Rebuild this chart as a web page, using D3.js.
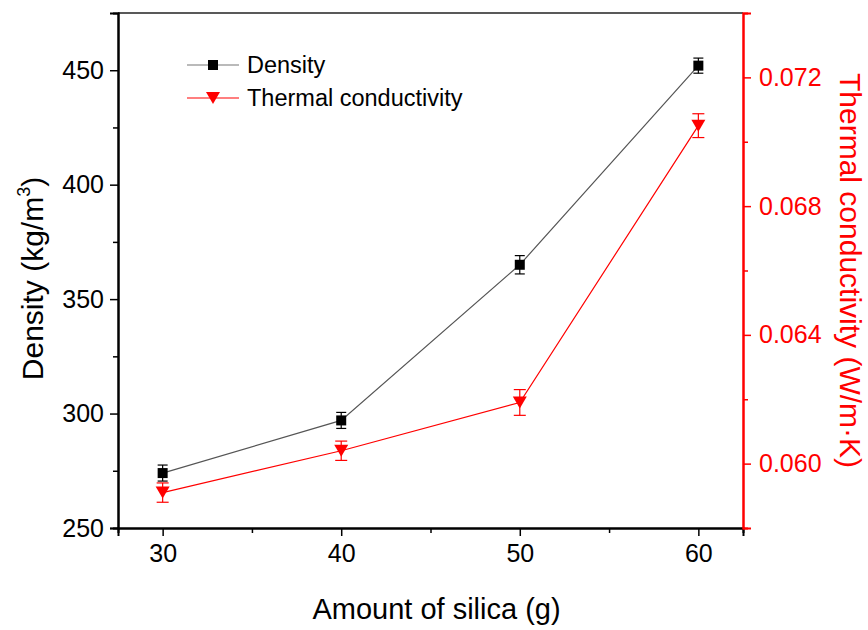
<!DOCTYPE html>
<html>
<head>
<meta charset="utf-8">
<script src="https://cdn.jsdelivr.net/npm/d3@7"></script>
<style>
  html, body { margin: 0; padding: 0; background: #ffffff; }
  svg { display: block; font-family: "Liberation Sans", Arial, sans-serif; }
</style>
</head>
<body>
<svg id="chart" width="868" height="630"></svg>
<script>
// ---- data ----
const silica = [30, 40, 50, 60];
const density = [274, 297, 365, 452];
const densityErr = [3.5, 3.5, 4, 3.3];
const conductivity = [0.0591, 0.0604, 0.0619, 0.0705];
const conductivityErr = [0.0003, 0.0003, 0.0004, 0.00037];
const xTicks = [30, 40, 50, 60];
const xMinor = [35, 45, 55];
const leftTicks = [250, 300, 350, 400, 450];
const leftMinor = [275, 325, 375, 425];
const rightTicks = [0.060, 0.064, 0.068, 0.072];
const rightMinor = [0.062, 0.066, 0.070];
const seriesNames = ["Density", "Thermal conductivity"];

// ---- layout ----
const svg = d3.select("#chart");
const L = 118, R = 743, T = 13, B = 528;
const red = "#ff0000";

const x = d3.scaleLinear().domain([27.5, 62.5]).range([L, R]);
const yL = d3.scaleLinear().domain([250, 475]).range([B, T]);
const yR = d3.scaleLinear().domain([0.058, 0.074]).range([B, T]);

// top frame
svg.append("line").attr("x1", L).attr("x2", R).attr("y1", T).attr("y2", T)
  .attr("stroke", "#222").attr("stroke-width", 1.5);

function styleAxis(g, color, fs) {
  g.selectAll(".domain").attr("stroke", color).attr("stroke-width", 2);
  g.selectAll(".tick line").attr("stroke", color).attr("stroke-width", 1.5);
  g.selectAll(".tick text").attr("fill", color).attr("font-size", fs)
    .attr("font-family", "Liberation Sans, Arial, sans-serif");
}

// bottom axis
const gx = svg.append("g").attr("transform", `translate(0,${B})`)
  .call(d3.axisBottom(x).tickValues(xTicks).tickSize(8).tickPadding(8).tickFormat(d3.format("d")));
styleAxis(gx, "#000", 25);
const gxm = svg.append("g").attr("transform", `translate(0,${B})`)
  .call(d3.axisBottom(x).tickValues(xMinor).tickSize(5).tickFormat(""));
styleAxis(gxm, "#000", 25);

// left axis
const gl = svg.append("g").attr("transform", `translate(${L},0)`)
  .call(d3.axisLeft(yL).tickValues(leftTicks).tickSize(8).tickPadding(6).tickFormat(d3.format("d")));
styleAxis(gl, "#000", 25);
const glm = svg.append("g").attr("transform", `translate(${L},0)`)
  .call(d3.axisLeft(yL).tickValues(leftMinor).tickSize(5).tickFormat(""));
styleAxis(glm, "#000", 25);

// right axis
const gr = svg.append("g").attr("transform", `translate(${R},0)`)
  .call(d3.axisRight(yR).tickValues(rightTicks).tickSize(8).tickPadding(8).tickFormat(d3.format(".3f")));
styleAxis(gr, red, 25);
const grm = svg.append("g").attr("transform", `translate(${R},0)`)
  .call(d3.axisRight(yR).tickValues(rightMinor).tickSize(5).tickFormat(""));
styleAxis(grm, red, 25);

// axis titles
svg.append("text").attr("x", (L + R) / 2 + 6).attr("y", 619)
  .attr("text-anchor", "middle").attr("font-size", 29).attr("fill", "#000")
  .text("Amount of silica (g)");

const lt = svg.append("text")
  .attr("transform", `translate(43,${(T + B) / 2 + 8}) rotate(-90)`)
  .attr("text-anchor", "middle").attr("font-size", 30).attr("fill", "#000");
lt.append("tspan").text("Density (kg/m");
lt.append("tspan").attr("font-size", 18).attr("dy", -13).text("3");
lt.append("tspan").attr("dy", 13).text(")");

svg.append("text")
  .attr("transform", `translate(840,${(T + B) / 2}) rotate(90)`)
  .attr("text-anchor", "middle").attr("font-size", 30).attr("fill", red)
  .text("Thermal conductivity (W/m\u00B7K)");

// ---- series ----
const dData = silica.map((s, i) => ({ x: s, y: density[i], e: densityErr[i] }));
const cData = silica.map((s, i) => ({ x: s, y: conductivity[i], e: conductivityErr[i] }));

svg.append("path").datum(dData)
  .attr("d", d3.line().x(d => x(d.x)).y(d => yL(d.y)))
  .attr("fill", "none").attr("stroke", "#555").attr("stroke-width", 1.2);
svg.append("path").datum(cData)
  .attr("d", d3.line().x(d => x(d.x)).y(d => yR(d.y)))
  .attr("fill", "none").attr("stroke", red).attr("stroke-width", 1.2);

function errorBars(data, yScale, color, cap) {
  const g = svg.append("g").attr("stroke", color).attr("stroke-width", 1.2);
  data.forEach(d => {
    const cx = x(d.x), y1 = yScale(d.y - d.e), y2 = yScale(d.y + d.e);
    g.append("line").attr("x1", cx).attr("x2", cx).attr("y1", y1).attr("y2", y2);
    g.append("line").attr("x1", cx - cap).attr("x2", cx + cap).attr("y1", y1).attr("y2", y1);
    g.append("line").attr("x1", cx - cap).attr("x2", cx + cap).attr("y1", y2).attr("y2", y2);
  });
}
errorBars(dData, yL, "#000", 5);
errorBars(cData, yR, red, 6);

const sq = 10;
function square(g, cx, cy) {
  g.append("rect").attr("x", cx - sq / 2).attr("y", cy - sq / 2)
    .attr("width", sq).attr("height", sq).attr("fill", "#000");
}
const tw = 14, th = 12;
function triangle(g, cx, cy) {
  g.append("path")
    .attr("d", `M${cx - tw / 2},${cy - th / 2}L${cx + tw / 2},${cy - th / 2}L${cx},${cy + th / 2}Z`)
    .attr("fill", red);
}
const mg = svg.append("g");
dData.forEach(d => square(mg, x(d.x), yL(d.y)));
cData.forEach(d => triangle(mg, x(d.x), yR(d.y)));

// ---- legend ----
const leg = svg.append("g");
const lx1 = 187, lx2 = 239, lxm = 213, ly = [65, 98];
leg.append("line").attr("x1", lx1).attr("x2", lx2).attr("y1", ly[0]).attr("y2", ly[0])
  .attr("stroke", "#777").attr("stroke-width", 1.2);
square(leg, lxm, ly[0]);
leg.append("line").attr("x1", lx1).attr("x2", lx2).attr("y1", ly[1]).attr("y2", ly[1])
  .attr("stroke", red).attr("stroke-width", 1.2);
triangle(leg, lxm, ly[1]);
seriesNames.forEach((n, i) => {
  leg.append("text").attr("x", 247).attr("y", ly[i] + 8).attr("font-size", 23.5)
    .attr("fill", "#000").text(n);
});
</script>
</body>
</html>
